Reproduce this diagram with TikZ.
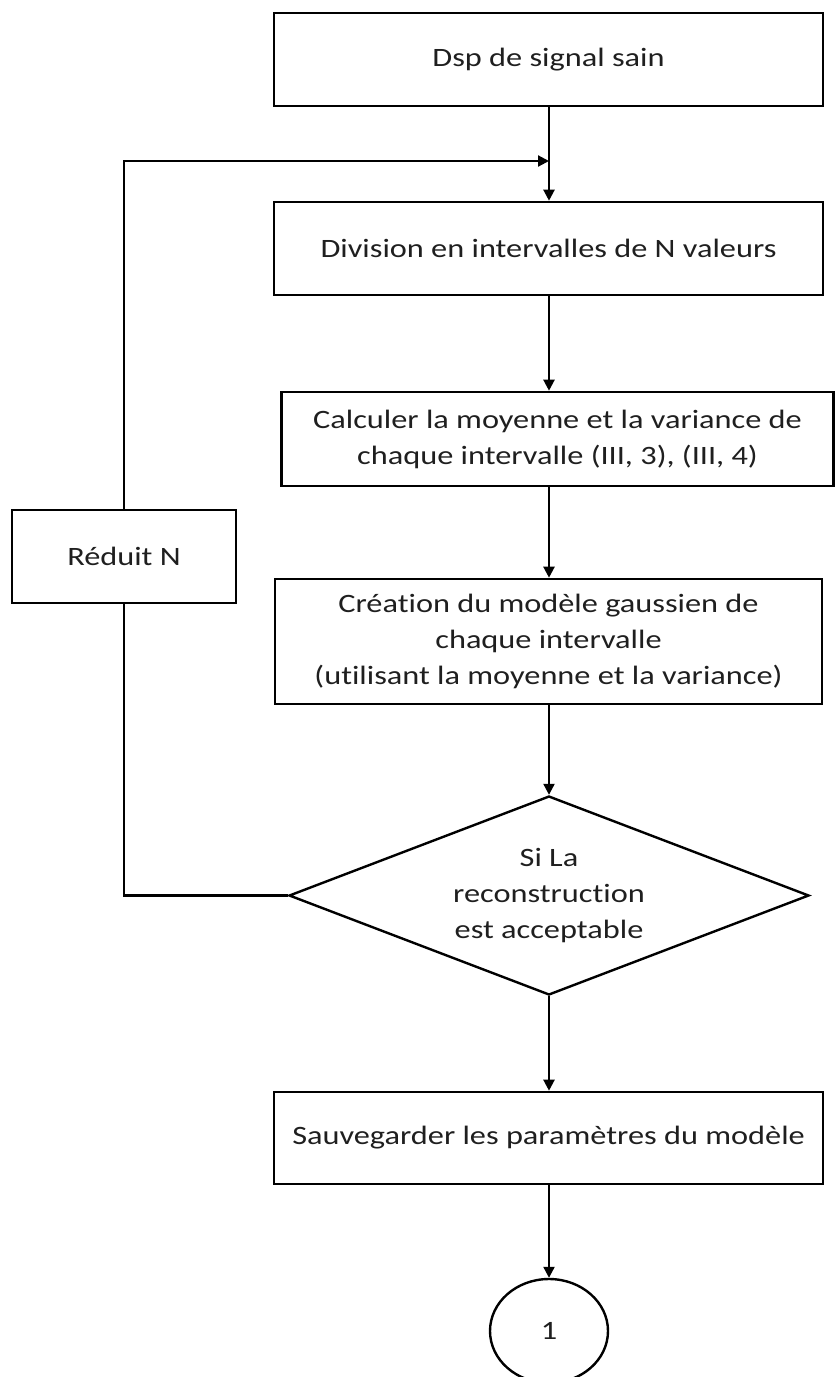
\documentclass[tikz,border=0pt]{standalone}
\usepackage{fontspec}
\setmainfont{Carlito}[FakeStretch=1.22,Ligatures=NoCommon]
\usetikzlibrary{shapes.geometric,arrows.meta}
\begin{document}
\begin{tikzpicture}[x=1pt,y=-1pt,
  every node/.style={font=\fontsize{26.5}{36}\selectfont, align=center, inner sep=0pt, text=black!88},
  box/.style={draw=black, line width=2.6pt, rectangle},
  link/.style={line width=2.2pt, -{Triangle[length=11pt,width=11pt]}},
  plain/.style={line width=2.2pt}]
\useasboundingbox (0,0) rectangle (835,1377);
\node[box, minimum width=549pt, minimum height=93pt] (b1) at (548.5,59.5) {Dsp de signal sain};
\node[box, minimum width=549pt, minimum height=93pt] (b2) at (548.5,248.5) {Division en intervalles de N valeurs};
\node[box, minimum width=552pt, minimum height=94pt] (b3) at (557.5,439) {Calculer la moyenne et la variance de\\chaque intervalle (III, 3), (III, 4)};
\node[box, minimum width=547pt, minimum height=125pt] (b4) at (548.5,641.5) {Création du modèle gaussien de\\chaque intervalle\\(utilisant la moyenne et la variance)};
\node[draw=black, line width=2.4pt, shape=diamond, aspect=2.6, minimum width=520pt, minimum height=199pt] (dec) at (549,895.5) {Si La\\reconstruction\\est acceptable};
\node[box, minimum width=549pt, minimum height=92pt] (b5) at (548.5,1138) {Sauvegarder les paramètres du modèle};
\node[draw=black, line width=2.4pt, ellipse, minimum width=118pt, minimum height=104pt] (end) at (549,1331) {1};
\node[box, minimum width=224pt, minimum height=93pt] (red) at (124,556.5) {Réduit N};
\coordinate (join) at (549,161);
\draw[link] (b1.south -| 549,0) -- (b2.north -| 549,0);
\draw[link] (b2.south -| 549,0) -- (b3.north -| 549,0);
\draw[link] (b3.south -| 549,0) -- (b4.north -| 549,0);
\draw[link] (b4.south -| 549,0) -- (dec.north);
\draw[link] (dec.south) -- (b5.north -| 549,0);
\draw[link] (b5.south -| 549,0) -- (end.north);
\draw[plain] (dec.west) -| (red.south);
\draw[link] (red.north) |- (join);
\end{tikzpicture}
\end{document}
